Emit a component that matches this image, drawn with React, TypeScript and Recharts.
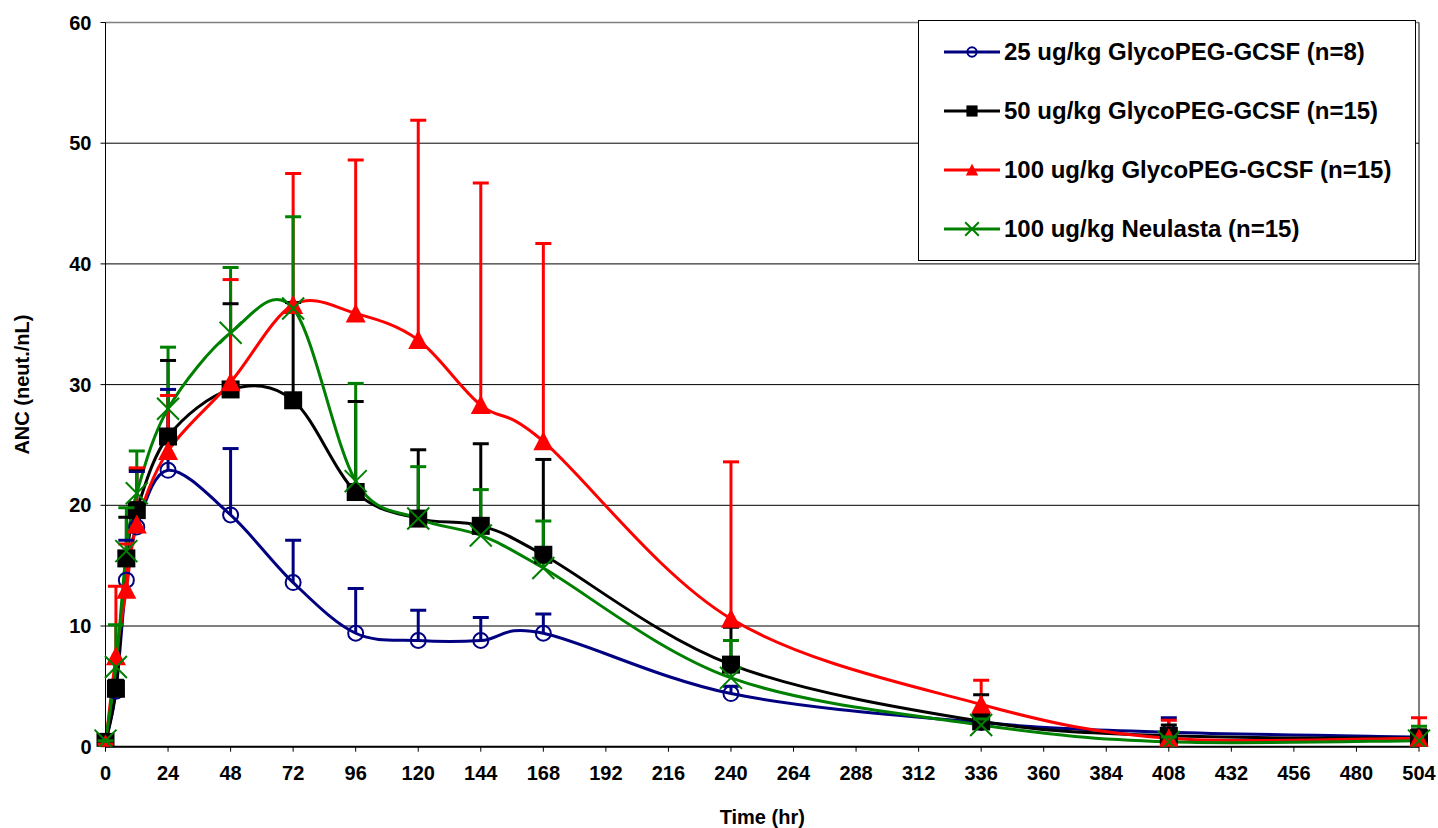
import { CartesianGrid, ErrorBar, Line, LineChart, ReferenceLine, XAxis, YAxis } from "recharts";

// sampling times (hr)
const hours = [0, 4, 8, 12, 24, 48, 72, 96, 120, 144, 168, 240, 336, 408, 504];

// mean ANC and top of the +SD bar, neut./nL
const glyco25Mean = [0.3, 4.6, 13.8, 18.2, 22.9, 19.2, 13.6, 9.4, 8.8, 8.8, 9.4, 4.4, 2.0, 1.2, 0.8];
const glyco25Top = [0.3, 5.2, 17.1, 22.8, 29.6, 24.7, 17.1, 13.1, 11.3, 10.7, 11.0, 5.0, 2.4, 2.4, 1.2];
const glyco50Mean = [0.4, 4.8, 15.6, 19.6, 25.7, 29.6, 28.7, 21.1, 18.9, 18.3, 15.9, 6.8, 2.1, 0.9, 0.7];
const glyco50Top = [0.4, 5.5, 19.0, 23.0, 32.0, 36.7, 36.8, 28.6, 24.6, 25.1, 23.8, 9.9, 4.3, 1.8, 1.4];
const glyco100Mean = [0.2, 7.5, 13.0, 18.4, 24.5, 30.2, 36.6, 35.9, 33.7, 28.3, 25.3, 10.6, 3.5, 0.7, 0.7];
const glyco100Top = [0.2, 13.3, 16.8, 23.1, 29.1, 38.7, 47.5, 48.6, 51.9, 46.7, 41.7, 23.6, 5.5, 2.2, 2.4];
const neulastaMean = [0.5, 6.6, 16.2, 21.0, 28.0, 34.3, 36.3, 22.0, 18.9, 17.5, 14.8, 5.7, 1.8, 0.4, 0.5];
const neulastaTop = [0.5, 10.1, 19.8, 24.5, 33.1, 39.7, 43.9, 30.1, 23.2, 21.3, 18.7, 8.8, 2.3, 0.8, 1.7];

const xTicks = [0, 24, 48, 72, 96, 120, 144, 168, 192, 216, 240, 264, 288, 312, 336, 360, 384, 408, 432, 456, 480, 504];
const yTicks = [0, 10, 20, 30, 40, 50, 60];

const legendLabels = [
  "25 ug/kg GlycoPEG-GCSF (n=8)",
  "50 ug/kg GlycoPEG-GCSF (n=15)",
  "100 ug/kg GlycoPEG-GCSF (n=15)",
  "100 ug/kg Neulasta (n=15)",
];

const NAVY = "#000080";
const BLACK = "#000000";
const RED = "#ff0000";
const GREEN = "#008000";
const FONT = "'Liberation Sans', Arial, sans-serif";

type Row = { t: number; v: number; hi: number };
const rows = (mean: number[], top: number[]): Row[] => hours.map((t, i) => ({ t, v: mean[i], hi: top[i] }));

const series = [
  { key: "g25", data: rows(glyco25Mean, glyco25Top), color: NAVY, marker: "circle" },
  { key: "g50", data: rows(glyco50Mean, glyco50Top), color: BLACK, marker: "square" },
  { key: "g100", data: rows(glyco100Mean, glyco100Top), color: RED, marker: "triangle" },
  { key: "neu", data: rows(neulastaMean, neulastaTop), color: GREEN, marker: "cross" },
];

// Excel style smoothing (uniform Catmull-Rom as cubic beziers)
function excelCurve(context: any) {
  let pts: number[][] = [];
  return {
    areaStart() {},
    areaEnd() {},
    lineStart() { pts = []; },
    point(x: number, y: number) { pts.push([+x, +y]); },
    lineEnd() {
      if (!pts.length) return;
      context.moveTo(pts[0][0], pts[0][1]);
      for (let i = 0; i < pts.length - 1; i++) {
        const p0 = pts[i - 1] || pts[i];
        const p1 = pts[i];
        const p2 = pts[i + 1];
        const p3 = pts[i + 2] || p2;
        context.bezierCurveTo(
          p1[0] + (p2[0] - p0[0]) / 6, p1[1] + (p2[1] - p0[1]) / 6,
          p2[0] - (p3[0] - p1[0]) / 6, p2[1] - (p3[1] - p1[1]) / 6,
          p2[0], p2[1]);
      }
    },
  };
}

function Marker({ kind, cx, cy, color, s = 1 }: { kind: string; cx: number; cy: number; color: string; s?: number }) {
  if (kind === "circle") return <circle cx={cx} cy={cy} r={7.5 * s} fill="none" stroke={color} strokeWidth={2} />;
  if (kind === "square") return <rect x={cx - 9 * s} y={cy - 9 * s} width={18 * s} height={18 * s} fill={color} />;
  if (kind === "triangle") return <polygon points={`${cx},${cy - 10 * s} ${cx + 10 * s},${cy + 9 * s} ${cx - 10 * s},${cy + 9 * s}`} fill={color} />;
  const d = 11 * s;
  return <path d={`M${cx - d},${cy - d}L${cx + d},${cy + d}M${cx + d},${cy - d}L${cx - d},${cy + d}`} stroke={color} strokeWidth={2} fill="none" />;
}

function Legend() {
  return <div style={{ position: "absolute", left: 918, top: 20, width: 498, height: 241, boxSizing: "border-box", border: "1px solid #000", background: "#fff", fontFamily: FONT, fontWeight: "bold", fontSize: 24 }}>
    {series.map((s, i) => <div key={s.key} style={{ position: "absolute", left: 24, top: 16 + i * 58.9, height: 30, display: "flex", alignItems: "center", whiteSpace: "nowrap" }}>
      <svg width={58} height={30} style={{ marginRight: 3 }}>
        <line x1={1} x2={57} y1={15} y2={15} stroke={s.color} strokeWidth={3} />
        <Marker kind={s.marker} cx={29} cy={15} color={s.color} s={0.62} />
      </svg>
      <span>{legendLabels[i]}</span>
    </div>)}
  </div>;
}

export default function App() {
  return <div style={{ position: "absolute", left: 0, top: 0, width: 1438, height: 828, background: "#fff" }}>
    <LineChart width={1438} height={828} margin={{ top: 22.5, right: 19, bottom: 0, left: 45.5 }}>
      <CartesianGrid vertical={false} stroke="#000" strokeWidth={1} />
      <ReferenceLine y={60} stroke="#808080" strokeWidth={1.5} />
      <ReferenceLine x={504} stroke="#000" strokeWidth={1} />
      <XAxis type="number" dataKey="t" domain={[0, 504]} ticks={xTicks} allowDuplicatedCategory={false} height={81.3}
        axisLine={{ stroke: "#000", strokeWidth: 2 }} tickLine={{ stroke: "#000" }} tickSize={5} tickMargin={14}
        tick={{ fill: "#000", fontSize: 20, fontWeight: "bold", fontFamily: FONT }}
        label={{ value: "Time (hr)", position: "insideBottom", offset: 4, fill: "#000", fontSize: 20, fontWeight: "bold", fontFamily: FONT }} />
      <YAxis type="number" domain={[0, 60]} ticks={yTicks} width={60} allowDataOverflow
        axisLine={{ stroke: "#000" }} tickLine={{ stroke: "#000" }} tickSize={5} tickMargin={9}
        tick={{ fill: "#000", fontSize: 20, fontWeight: "bold", fontFamily: FONT }}
        label={{ value: "ANC (neut./nL)", angle: -90, position: "insideLeft", offset: -24, fill: "#000", fontSize: 20, fontWeight: "bold", fontFamily: FONT, style: { textAnchor: "middle" } }} />
      {series.flatMap((s) => [
        <Line key={s.key + "-cap"} data={s.data} dataKey="hi" stroke="none" legendType="none" isAnimationActive={false} activeDot={false}
          dot={(p: any) => <line key={`${s.key}-cap-${p.index}`} x1={p.cx - 8} x2={p.cx + 8} y1={p.cy} y2={p.cy} stroke={s.color} strokeWidth={3} />} />,
        <Line key={s.key} data={s.data} dataKey="v" type={excelCurve as any} stroke={s.color} strokeWidth={3} isAnimationActive={false} activeDot={false}
          dot={(p: any) => <Marker key={`${s.key}-m-${p.index}`} kind={s.marker} cx={p.cx} cy={p.cy} color={s.color} />}>
          <ErrorBar dataKey={(d: Row) => [0, d.hi - d.v]} width={0} stroke={s.color} strokeWidth={3} direction="y" />
        </Line>,
      ])}
    </LineChart>
    <Legend />
  </div>;
}
